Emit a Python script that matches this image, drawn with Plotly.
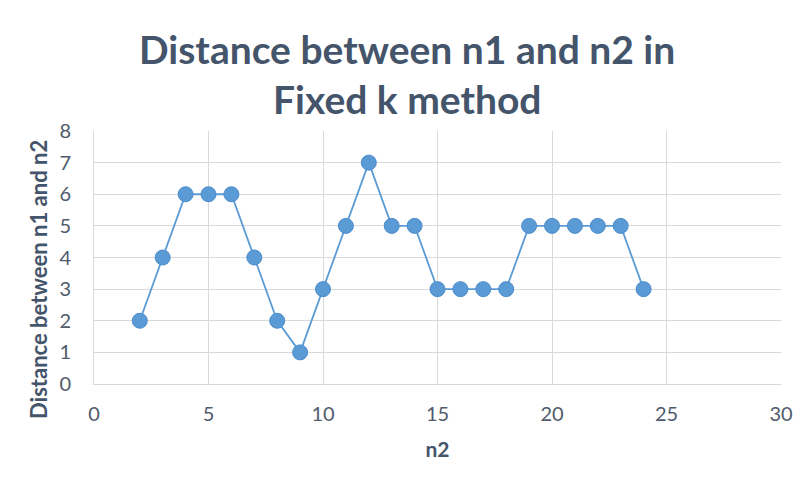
import plotly.graph_objects as go

n2 = [2, 3, 4, 5, 6, 7, 8, 9, 10, 11, 12, 13, 14, 15, 16, 17, 18, 19, 20, 21, 22, 23, 24]
distance = [2, 4, 6, 6, 6, 4, 2, 1, 3, 5, 7, 5, 5, 3, 3, 3, 3, 5, 5, 5, 5, 5, 3]
x_ticks = [0, 5, 10, 15, 20, 25, 30]
y_ticks = [0, 1, 2, 3, 4, 5, 6, 7, 8]
title_lines = ["Distance between n1 and n2 in", "Fixed k method"]
y_title = "Distance between n1 and n2"
x_title = "n2"

W, H = 811, 479
OFF = 8  # page body offset
L, T = 94 - OFF, 131 - OFF
pw, ph = 687, 253
R, B = W - L - pw, H - T - ph

def px(x):
    return (x - OFF - L) / pw

def py(y):
    return (T + ph - (y - OFF)) / ph

FONT = "Lato"
TICK = "#4f5b6b"
DARK = "#44546A"

fig = go.Figure()
fig.add_trace(go.Scatter(
    x=n2, y=distance, mode="lines+markers",
    line=dict(color="#5B9BD5", width=1.8),
    marker=dict(size=15, color="#5B9BD5", line=dict(color="#4A8BCB", width=1)),
    showlegend=False,
))

annotations = []
for i, line in enumerate(title_lines):
    annotations.append(dict(
        text=line, xref="paper", yref="paper",
        x=px(407), y=py(49 + 50 * i), xanchor="center", yanchor="middle",
        showarrow=False,
        font=dict(family=FONT, size=39, color=DARK, weight="bold"),
    ))
annotations.append(dict(
    text=y_title, xref="paper", yref="paper",
    x=px(38), y=py(280), xanchor="center", yanchor="middle",
    textangle=-90, showarrow=False,
    font=dict(family=FONT, size=22, color=DARK, weight="bold"),
))

fig.update_layout(
    width=W, height=H,
    margin=dict(l=L, r=R, t=T, b=B),
    paper_bgcolor="white", plot_bgcolor="white",
    font=dict(family=FONT, color=TICK),
    annotations=annotations,
    xaxis=dict(
        range=[0, 30], tickvals=x_ticks, ticks="", showgrid=True,
        gridcolor="#D9D9D9", gridwidth=1, zeroline=False,
        showline=True, linecolor="#D9D9D9", linewidth=1,
        tickfont=dict(size=20, color=TICK), ticklabelstandoff=12,
        title=dict(text=x_title, font=dict(size=21, color=DARK, weight="bold"), standoff=18),
    ),
    yaxis=dict(
        range=[0, 8], tickvals=y_ticks, ticks="", showgrid=True,
        gridcolor="#D9D9D9", gridwidth=1, zeroline=False,
        showline=True, linecolor="#D9D9D9", linewidth=1,
        tickfont=dict(size=20, color=TICK), ticklabelstandoff=18,
    ),
)

fig.write_html("out.html")
